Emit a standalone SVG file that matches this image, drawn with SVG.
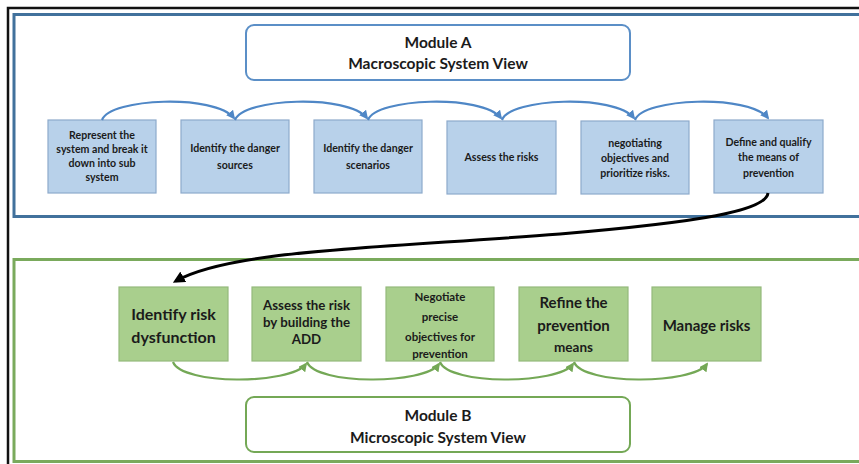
<svg xmlns="http://www.w3.org/2000/svg" width="859" height="464" viewBox="0 0 859 464">
<defs>
<style>
text{font-family:Lato,"Open Sans","Liberation Sans",sans-serif;font-weight:bold;fill:#1b1b1b;text-anchor:middle;dominant-baseline:central}
.bbox{fill:#b8d1ea;stroke:#8daacb;stroke-width:1.2}
.gbox{fill:#a9cf8d;stroke:#95b97c;stroke-width:1.2}
.bt{font-size:10.6px}
.mod{font-size:15.5px}
.barc{fill:none;stroke:#4f87c6;stroke-width:2.2;marker-end:url(#ab)}
.garc{fill:none;stroke:#74a856;stroke-width:2.2;marker-end:url(#ag)}
</style>
<marker id="ab" viewBox="0 0 10 10" refX="8" refY="5" markerWidth="4" markerHeight="4" orient="auto"><path d="M0,0 L10,5 L0,10 z" fill="#4f87c6"/></marker>
<marker id="ag" viewBox="0 0 10 10" refX="8" refY="5" markerWidth="4" markerHeight="4" orient="auto"><path d="M0,0 L10,5 L0,10 z" fill="#74a856"/></marker>
<marker id="ak" viewBox="0 0 10 10" refX="7" refY="5" markerWidth="4" markerHeight="4" orient="auto"><path d="M0,0 L10,5 L0,10 z" fill="#000"/></marker>
</defs>
<rect width="859" height="464" fill="#ffffff"/>
<!-- frames -->
<rect x="8" y="8" width="870" height="480" fill="none" stroke="#111" stroke-width="2.5"/>
<rect x="14" y="14.5" width="860" height="202" fill="none" stroke="#41719c" stroke-width="3"/>
<rect x="14" y="259.5" width="860" height="202" fill="none" stroke="#7aaa5c" stroke-width="3"/>

<g id="moduleA">
<rect x="246" y="25" width="384" height="55" rx="8" fill="#fff" stroke="#5b8fc7" stroke-width="2"/>
<text x="438" y="42" class="mod">Module A</text>
<text x="438" y="63" class="mod">Macroscopic System View</text>
</g>

<g id="a1"><rect class="bbox" x="48" y="120" width="108" height="73"/>
<text class="bt" x="102" y="135">Represent the</text><text class="bt" x="102" y="149">system and break it</text><text class="bt" x="102" y="163">down into sub</text><text class="bt" x="102" y="177">system</text></g>
<g id="a2"><rect class="bbox" x="181" y="120" width="108" height="73"/>
<text class="bt" x="235" y="148">Identify the danger</text><text class="bt" x="235" y="165">sources</text></g>
<g id="a3"><rect class="bbox" x="314" y="120" width="108" height="73"/>
<text class="bt" x="368" y="148">Identify the danger</text><text class="bt" x="368" y="165">scenarios</text></g>
<g id="a4"><rect class="bbox" x="447" y="121" width="109" height="73"/>
<text class="bt" x="501.5" y="157">Assess the risks</text></g>
<g id="a5"><rect class="bbox" x="581" y="121" width="108" height="73"/>
<text class="bt" x="635" y="143">negotiating</text><text class="bt" x="635" y="158">objectives and</text><text class="bt" x="635" y="173">prioritize risks.</text></g>
<g id="a6"><rect class="bbox" x="714" y="120" width="109" height="73"/>
<text class="bt" x="768.5" y="142">Define and qualify</text><text class="bt" x="768.5" y="157">the means of</text><text class="bt" x="768.5" y="173">prevention</text></g>

<g id="b1"><rect class="gbox" x="119" y="287" width="109" height="74"/>
<text x="173.5" y="313" font-size="16">Identify risk</text><text x="173.5" y="336" font-size="16">dysfunction</text></g>
<g id="b2"><rect class="gbox" x="252" y="287" width="109" height="74"/>
<text x="306.5" y="305" font-size="13.3">Assess the risk</text><text x="306.5" y="322" font-size="13.3">by building the</text><text x="306.5" y="339" font-size="13.3">ADD</text></g>
<g id="b3"><rect class="gbox" x="386" y="287" width="108" height="74"/>
<text x="440" y="296" font-size="11.5">Negotiate</text><text x="440" y="316" font-size="11.5">precise</text><text x="440" y="336" font-size="11.5">objectives for</text><text x="440" y="353" font-size="11.5">prevention</text></g>
<g id="b4"><rect class="gbox" x="519" y="287" width="109" height="74"/>
<text x="573.5" y="302" font-size="15">Refine the</text><text x="573.5" y="325" font-size="15">prevention</text><text x="573.5" y="347" font-size="13.5">means</text></g>
<g id="b5"><rect class="gbox" x="652" y="287" width="109" height="74"/>
<text x="706.5" y="325" font-size="15">Manage risks</text></g>

<g id="moduleB">
<rect x="246" y="397" width="384" height="55" rx="8" fill="#fff" stroke="#74a856" stroke-width="2"/>
<text x="438" y="415" class="mod">Module B</text>
<text x="438" y="437" class="mod">Microscopic System View</text>
</g>

<g id="connectors">
<path class="barc" d="M102,120 C110,98 215,94 234,118"/>
<path class="barc" d="M235,120 C243,98 348,94 367,118"/>
<path class="barc" d="M368,120 C376,98 482,94 501,118"/>
<path class="barc" d="M502,120 C510,98 615,94 634,118"/>
<path class="barc" d="M635,120 C643,98 749,94 768,118"/>
<path class="garc" d="M173,362 C182,385 290,385 306,364"/>
<path class="garc" d="M307,362 C316,385 424,385 439,364"/>
<path class="garc" d="M440,362 C449,385 558,385 573,364"/>
<path class="garc" d="M574,362 C583,385 692,385 707,364"/>
<path d="M768,193 C766,211 700,222 560,234 C380,248 230,250 176,281" fill="none" stroke="#000" stroke-width="3" marker-end="url(#ak)"/>
</g>
</svg>
